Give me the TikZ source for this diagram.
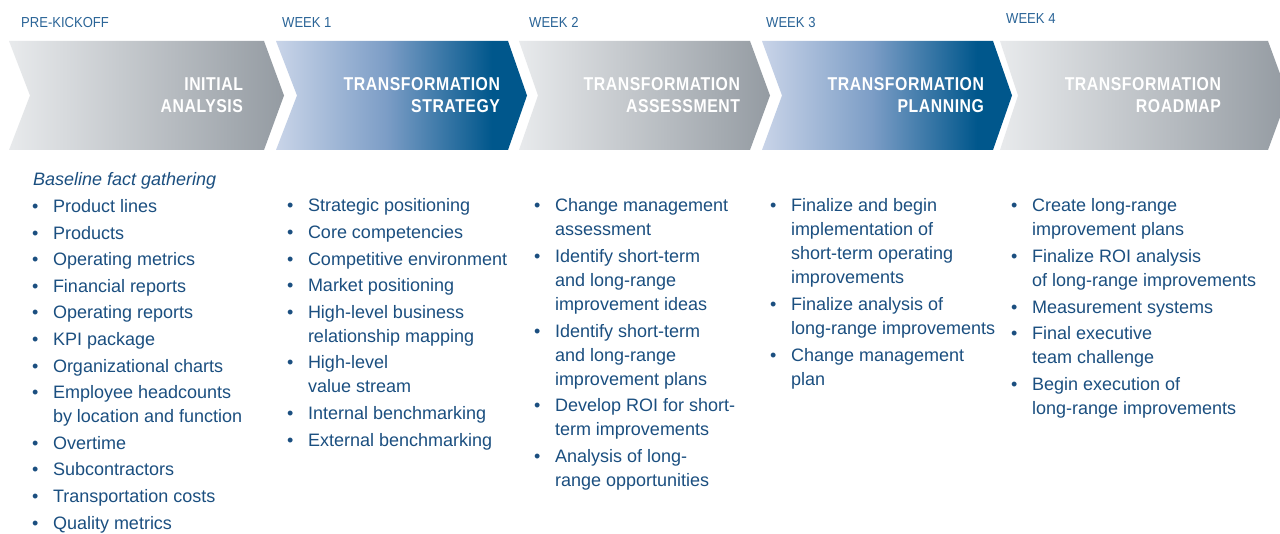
\documentclass[tikz,border=0pt]{standalone}
\usepackage{fontspec}
\setmainfont{Liberation Sans}
\newfontfamily\headfont{Liberation Sans}[FakeStretch=0.9]
\newfontfamily\titlefont{Liberation Sans}[FakeStretch=0.85,LetterSpace=3]
\definecolor{txtblue}{HTML}{1B4F80}
\definecolor{headblue}{HTML}{2A6497}
\definecolor{ga}{HTML}{E8EAEC}
\definecolor{gb}{HTML}{949BA2}
\definecolor{ba}{HTML}{C9D4E8}
\definecolor{bb}{HTML}{7C9DC6}
\definecolor{bc}{HTML}{00578C}
\pgfdeclarehorizontalshading{greyshade}{100bp}{color(0bp)=(ga); color(25bp)=(ga); color(75bp)=(gb); color(100bp)=(gb)}
\pgfdeclarehorizontalshading{blueshade}{100bp}{color(0bp)=(ba); color(25bp)=(ba); color(47bp)=(bb); color(68bp)=(bc); color(100bp)=(bc)}
\newcommand\colx{0}
\newcommand\cury{0}
\newcommand\startcol[2]{\def\colx{#1}\def\cury{#2}}
\newcommand\bitem[3]{%
  \node[body] (#1) at (\colx,\cury-15) {\rule{0pt}{15pt}#3};
  \node[bul] (#1-b) at (\colx-21,\cury) {\textbullet};
  \pgfmathsetmacro\cury{\cury+24*(#2-1)+26.6}%
}
\begin{document}
\begin{tikzpicture}[x=1pt,y=-1pt,
  title/.style={font=\titlefont\bfseries\fontsize{18.6}{22}\selectfont, text=white, align=right, anchor=north east, inner sep=0pt, outer sep=0pt},
  week/.style={font=\headfont\fontsize{14.5}{17}\selectfont, text=headblue, anchor=base west, inner sep=0pt},
  body/.style={font=\fontsize{18}{24}\selectfont, text=txtblue, align=left, anchor=north west, inner sep=0pt, outer sep=0pt},
  bul/.style={font=\fontsize{18}{24}\selectfont, text=txtblue, anchor=base west, inner sep=0pt, outer sep=0pt}]
\fill[white] (0,0) rectangle (1280,534);
\useasboundingbox (0,0) rectangle (1280,534);
\begin{scope}
\clip (0,0) rectangle (1280,534);
\shade[shading=greyshade] (9,41) -- (264,41) -- (284,95.5) -- (264,150) -- (9,150) -- (30,95.5) -- cycle;
\shade[shading=blueshade] (276,41) -- (508,41) -- (527,95.5) -- (508,150) -- (276,150) -- (297,95.5) -- cycle;
\shade[shading=greyshade] (519,41) -- (750,41) -- (770,95.5) -- (750,150) -- (519,150) -- (538,95.5) -- cycle;
\shade[shading=blueshade] (762,41) -- (993,41) -- (1012,95.5) -- (993,150) -- (762,150) -- (782,95.5) -- cycle;
\shade[shading=greyshade] (1000,41) -- (1268,41) -- (1288,95.5) -- (1268,150) -- (1000,150) -- (1018,95.5) -- cycle;
\end{scope}
% week labels
\node[week] (w0) at (21,28) {PRE-KICKOFF};
\node[week] (w1) at (282,28) {WEEK 1};
\node[week] (w2) at (529,28) {WEEK 2};
\node[week] (w3) at (766,28) {WEEK 3};
\node[week] (w4) at (1006,24) {WEEK 4};
% chevron titles
\node[title] (t1) at (243,77) {\rule{0pt}{14pt}INITIAL\\ANALYSIS};
\node[title] (t2) at (500,77) {\rule{0pt}{14pt}TRANSFORMATION\\STRATEGY};
\node[title] (t3) at (740,77) {\rule{0pt}{14pt}TRANSFORMATION\\ASSESSMENT};
\node[title] (t4) at (984,77) {\rule{0pt}{14pt}TRANSFORMATION\\PLANNING};
\node[title] (t5) at (1221,77) {\rule{0pt}{14pt}TRANSFORMATION\\ROADMAP};
% column 1
\node[bul, font=\itshape\fontsize{18}{24}\selectfont] (c1h) at (33,186) {Baseline fact gathering};
\startcol{53}{212.5}
\bitem{a1}{1}{Product lines}
\bitem{a2}{1}{Products}
\bitem{a3}{1}{Operating metrics}
\bitem{a4}{1}{Financial reports}
\bitem{a5}{1}{Operating reports}
\bitem{a6}{1}{KPI package}
\bitem{a7}{1}{Organizational charts}
\bitem{a8}{2}{Employee headcounts\\by location and function}
\bitem{a9}{1}{Overtime}
\bitem{a10}{1}{Subcontractors}
\bitem{a11}{1}{Transportation costs}
\bitem{a12}{1}{Quality metrics}
% column 2
\startcol{308}{212}
\bitem{b1}{1}{Strategic positioning}
\bitem{b2}{1}{Core competencies}
\bitem{b3}{1}{Competitive environment}
\bitem{b4}{1}{Market positioning}
\bitem{b5}{2}{High-level business\\relationship mapping}
\bitem{b6}{2}{High-level\\value stream}
\bitem{b7}{1}{Internal benchmarking}
\bitem{b8}{1}{External benchmarking}
% column 3
\startcol{555}{212}
\bitem{d1}{2}{Change management\\assessment}
\bitem{d2}{3}{Identify short-term\\and long-range\\improvement ideas}
\bitem{d3}{3}{Identify short-term\\and long-range\\improvement plans}
\bitem{d4}{2}{Develop ROI for short-\\term improvements}
\bitem{d5}{2}{Analysis of long-\\range opportunities}
% column 4
\startcol{791}{212}
\bitem{e1}{4}{Finalize and begin\\implementation of\\short-term operating\\improvements}
\bitem{e2}{2}{Finalize analysis of\\long-range improvements}
\bitem{e3}{2}{Change management\\plan}
% column 5
\startcol{1032}{212}
\bitem{f1}{2}{Create long-range\\improvement plans}
\bitem{f2}{2}{Finalize ROI analysis\\of long-range improvements}
\bitem{f3}{1}{Measurement systems}
\bitem{f4}{2}{Final executive\\team challenge}
\bitem{f5}{2}{Begin execution of\\long-range improvements}
\end{tikzpicture}
\end{document}
